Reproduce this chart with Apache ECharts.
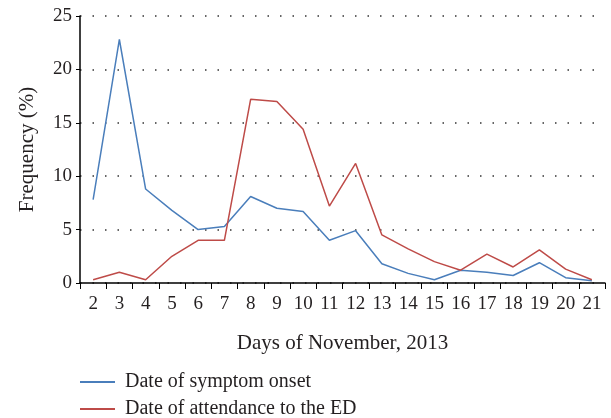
<!DOCTYPE html>
<html><head><meta charset="utf-8">
<script src="https://cdn.jsdelivr.net/npm/echarts@6/dist/echarts.min.js"></script>
<style>html,body{margin:0;padding:0;background:#fff}#c{width:611px;height:418px}</style>
</head><body><div id="c"></div>
<script>
const days = ['2','3','4','5','6','7','8','9','10','11','12','13','14','15','16','17','18','19','20','21'];
const symptomOnset = [7.8,22.8,8.8,6.8,5.0,5.3,8.1,7.0,6.7,4.0,4.9,1.8,0.9,0.3,1.2,1.0,0.7,1.9,0.5,0.2];
const attendanceED = [0.3,1.0,0.3,2.5,4.0,4.0,17.2,17.0,14.4,7.2,11.2,4.5,3.2,2.0,1.2,2.7,1.5,3.1,1.3,0.3];
const yTicks = [0,5,10,15,20,25];
const font = 'Liberation Serif';
const txt = '#231f20';
const chart = echarts.init(document.getElementById('c'));
chart.setOption({
  animation:false,
  textStyle:{fontFamily:font,color:txt},
  grid:{left:80,right:6,top:16,bottom:135,containLabel:false},
  legend:{orient:'vertical',left:80,top:372,height:60,padding:0,itemGap:7,itemWidth:35,itemHeight:2,icon:'rect',
    textStyle:{fontFamily:font,fontSize:20,color:txt,padding:[0,0,0,5]},
    data:['Date of symptom onset','Date of attendance to the ED']},
  xAxis:{type:'category',data:days,boundaryGap:true,
    name:'Days of November, 2013',nameLocation:'middle',nameGap:50,
    nameTextStyle:{fontFamily:font,fontSize:21,color:txt},
    axisLine:{lineStyle:{color:'#000',width:1.5}},
    axisTick:{show:true,length:6,lineStyle:{color:'#000'}},
    axisLabel:{fontFamily:font,fontSize:19,color:txt,margin:12,interval:0},
    splitLine:{show:false}},
  yAxis:{type:'value',min:0,max:25,interval:5,
    name:'Frequency (%)',nameLocation:'middle',nameGap:42,
    nameTextStyle:{fontFamily:font,fontSize:21,color:txt},
    axisLine:{show:true,lineStyle:{color:'#000',width:1.5}},
    axisTick:{show:true,length:4,lineStyle:{color:'#000'}},
    axisLabel:{fontFamily:font,fontSize:19,color:txt,margin:8,
      formatter:v=>yTicks.includes(v)?String(v):''},
    splitLine:{show:true,lineStyle:{color:'#333',width:1.5,type:[1.5,11]}}},
  series:[
    {name:'Date of symptom onset',type:'line',data:symptomOnset,symbol:'none',
     lineStyle:{color:'#4a7ebb',width:1.5},itemStyle:{color:'#4a7ebb'}},
    {name:'Date of attendance to the ED',type:'line',data:attendanceED,symbol:'none',
     lineStyle:{color:'#be4b48',width:1.5},itemStyle:{color:'#be4b48'}}
  ]
});
</script></body></html>
